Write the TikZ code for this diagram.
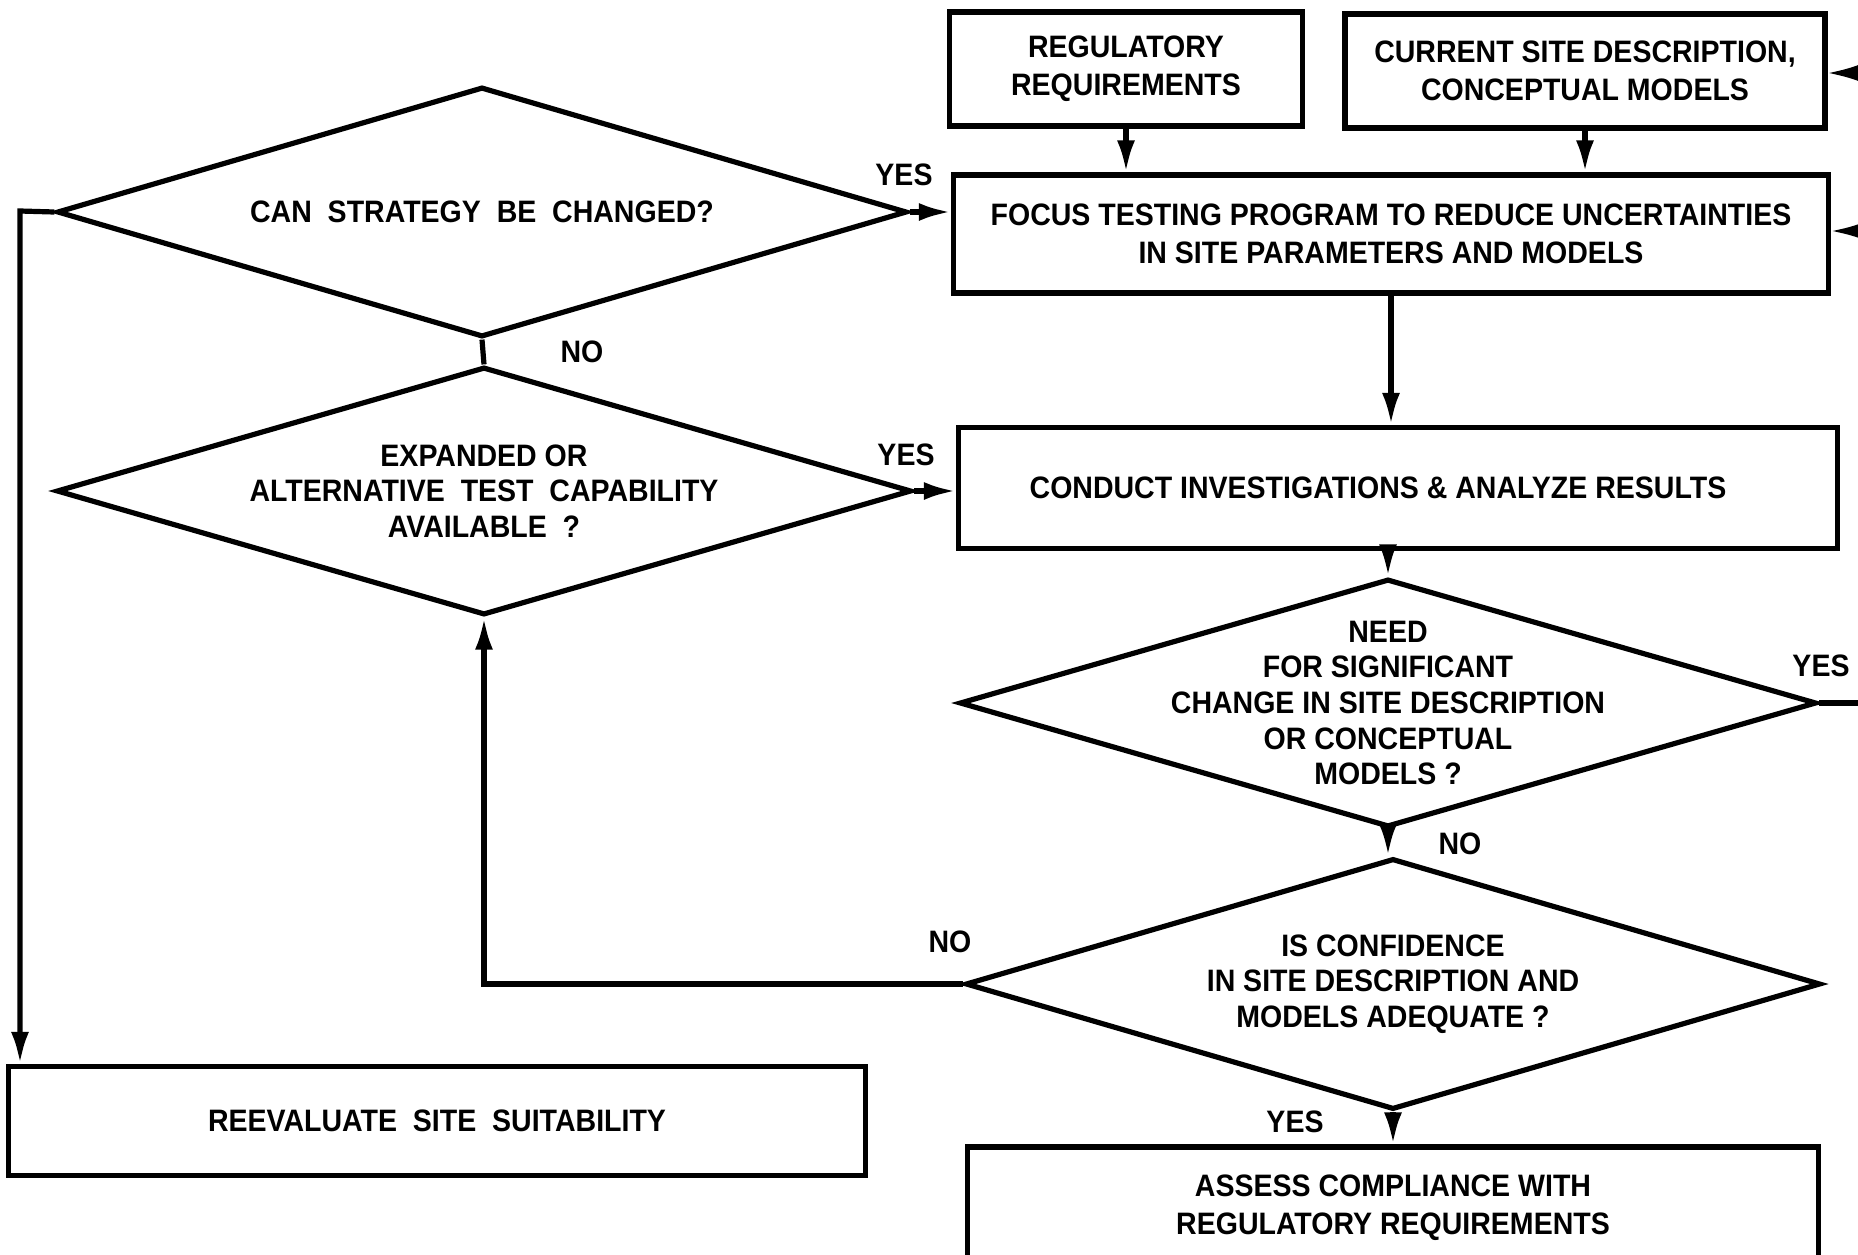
\documentclass[tikz,border=0pt]{standalone}
\usepackage{fontspec}
\setmainfont{Liberation Sans}[FakeStretch=0.92]
\usetikzlibrary{shapes.geometric,arrows.meta}
\tikzset{
  box/.style={draw, line width=2.6pt, inner sep=0pt, align=center,
    font=\bfseries\fontsize{15.5}{19}\selectfont},
  decision/.style={draw, shape=diamond, aspect=3.4, line width=2.6pt,
    inner sep=-40pt, align=center, font=\bfseries\fontsize{15.5}{17.8}\selectfont},
  lbl/.style={font=\bfseries\fontsize{15.5}{19}\selectfont},
  flow/.style={line width=2.6pt, -{Latex[length=16pt,width=9pt]}},
  feed/.style={line width=2.6pt, -{Latex[length=20pt,width=12pt]}},
  link/.style={line width=2.6pt}
}
\begin{document}
\begin{tikzpicture}[x=0.5pt,y=-0.5pt]
  \clip (0,0) rectangle (1858,1254);
  % boxes
  \node[box, minimum width=176.5pt, minimum height=57pt] (reg) at (1126,69) {REGULATORY\\REQUIREMENTS};
  \node[box, minimum width=240pt, minimum height=57pt] (site) at (1585,71) {CURRENT SITE DESCRIPTION,\\CONCEPTUAL MODELS};
  \node[box, minimum width=437.5pt, minimum height=59pt] (focus) at (1391,234) {FOCUS TESTING PROGRAM TO REDUCE UNCERTAINTIES\\IN SITE PARAMETERS AND MODELS};
  \node[box, minimum width=439.5pt, minimum height=60.5pt] (conduct) at (1398,488) {CONDUCT INVESTIGATIONS \& ANALYZE RESULTS\hspace*{20pt}};
  \node[box, minimum width=425.5pt, minimum height=61pt] (assess) at (1393,1208) {ASSESS COMPLIANCE WITH\\REGULATORY REQUIREMENTS};
  \node[box, minimum width=428.5pt, minimum height=54.5pt] (reeval) at (437,1121) {REEVALUATE~~SITE~~SUITABILITY};
  % decisions
  \node[decision, minimum width=425pt, minimum height=125pt] (strategy) at (482,212) {CAN~~STRATEGY~~BE~~CHANGED?};
  \node[decision, minimum width=427.5pt, minimum height=124pt] (expand) at (484,491) {EXPANDED OR\\ALTERNATIVE~~TEST~~CAPABILITY\\AVAILABLE~~?};
  \node[decision, minimum width=428.5pt, minimum height=124pt] (need) at (1388,703) {NEED\\FOR SIGNIFICANT\\CHANGE IN SITE DESCRIPTION\\OR CONCEPTUAL\\MODELS ?};
  \node[decision, minimum width=427.5pt, minimum height=125.5pt] (confid) at (1393,984) {IS CONFIDENCE\\IN SITE DESCRIPTION AND\\MODELS ADEQUATE ?};
  % answers
  \node[lbl] (yes1) at (904,175) {YES};
  \node[lbl] (no1) at (582,352) {NO};
  \node[lbl] (yes2) at (906,455) {YES};
  \node[lbl] (yes3) at (1821,666) {YES};
  \node[lbl] (no2) at (1460,844) {NO};
  \node[lbl] (no3) at (950,942) {NO};
  \node[lbl] (yes4) at (1295,1122) {YES};
  % loose ends at the cut edge
  \coordinate (inA) at (1858,73);
  \coordinate (inB) at (1858,231);
  \coordinate (outC) at (1858,703);
  \coordinate (turn) at (20,211);
  % connectors
  \draw[flow] (reg) -- (reg |- focus.north);
  \draw[flow] (site) -- (site |- focus.north);
  \draw[feed] (inA) -- (inA -| site.east);
  \draw[feed] (inB) -- (inB -| focus.east);
  \draw[flow] (strategy.east) -- (strategy.east -| focus.west);
  \draw[link] (strategy.south) -- (expand.north);
  \draw[flow] (expand.east) -- (expand.east -| conduct.west);
  \draw[flow] (focus.south) -- (focus.south |- conduct.north);
  \draw[flow] (need.north |- conduct.south) -- (need.north);
  \draw[flow] (need.south) -- (need.south |- confid.north);
  \draw[link] (need.east) -- (outC);
  \draw[flow] (confid.west) -- (confid.west -| expand.south) -- (expand.south);
  \draw[flow] (confid.south) -- (confid.south |- assess.north);
  \draw[flow] (strategy.west) -- (turn) -- (turn |- reeval.north);
\end{tikzpicture}
\end{document}
